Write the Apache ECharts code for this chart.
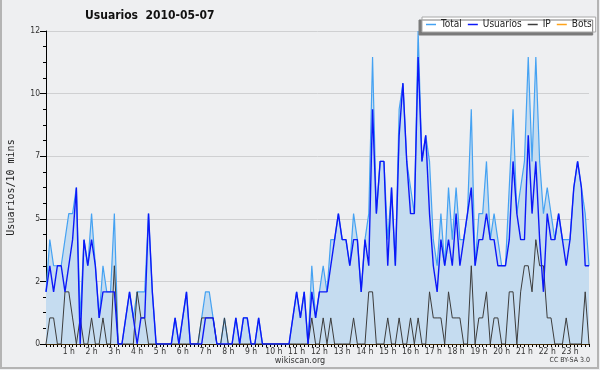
<!DOCTYPE html>
<html>
<head>
<meta charset="utf-8">
<script src="https://cdn.jsdelivr.net/npm/echarts@6/dist/echarts.min.js"></script>
<style>
html,body{margin:0;padding:0;background:#eeeff1;}
#c{width:600px;height:370px;}
</style>
</head>
<body>
<div id="c"></div>
<script>
const FONT = "'DejaVu Sans Condensed', 'DejaVu Sans', sans-serif";

const seriesNames = ['Total', 'Usuarios', 'IP', 'Bots'];
const hourLabels = ['1 h','2 h','3 h','4 h','5 h','6 h','7 h','8 h','9 h','10 h','11 h','12 h','13 h','14 h','15 h','16 h','17 h','18 h','19 h','20 h','21 h','22 h','23 h'];
const yTickLabels = ['0','2','5','7','10','12'];

const totalValues = [
  2,4,3,3,3,4,5,5,6,1, 4,3,5,3,1,3,2,2,5,0,
  0,1,2,1,2,2,2,5,2,0, 0,0,0,0,1,0,1,2,0,0,
  0,1,2,2,1,0,0,1,0,0, 1,0,1,1,0,0,1,0,0,0,
  0,0,0,0,0,1,2,1,2,0, 3,1,2,3,2,4,4,5,4,4,
  3,5,4,2,4,5,11,5,7,7, 4,6,3,9,10,7,6,5,12,7,
  8,7,4,3,5,3,6,4,6,4, 4,5,9,3,5,5,7,4,5,4,
  3,3,6,9,5,6,7,11,7,11, 7,5,6,5,4,5,4,4,4,6,
  7,6,5,3
];
const usuariosValues = [
  2,3,2,3,3,2,3,4,6,0, 4,3,4,3,1,2,2,2,2,0,
  0,1,2,1,0,1,1,5,2,0, 0,0,0,0,1,0,1,2,0,0,
  0,0,1,1,1,0,0,0,0,0, 1,0,1,1,0,0,1,0,0,0,
  0,0,0,0,0,1,2,1,2,0, 2,1,2,2,2,3,4,5,4,4,
  3,4,4,2,4,3,9,5,7,7, 3,6,3,8,10,7,5,5,11,7,
  8,5,3,2,4,3,4,3,5,3, 4,5,6,3,4,4,5,4,4,3,
  3,3,4,7,5,4,4,8,5,7, 4,2,5,4,4,5,4,3,4,6,
  7,6,3,3
];
const ipValues = [
  0,1,1,0,0,2,2,1,0,1, 0,0,1,0,0,1,0,0,3,0,
  0,0,0,0,2,1,1,0,0,0, 0,0,0,0,0,0,0,0,0,0,
  0,1,1,1,1,0,0,1,0,0, 0,0,0,0,0,0,0,0,0,0,
  0,0,0,0,0,0,0,0,0,0, 1,0,0,1,0,1,0,0,0,0,
  0,1,0,0,0,2,2,0,0,0, 1,0,0,1,0,0,1,0,1,0,
  0,2,1,1,1,0,2,1,1,1, 0,0,3,0,1,1,2,0,1,1,
  0,0,2,2,0,2,3,3,2,4, 3,3,1,1,0,0,0,1,0,0,
  0,0,2,0
];
const botsValues = [
  0,0,0,0,0,0,0,0,0,0, 0,0,0,0,0,0,0,0,0,0,
  0,0,0,0,0,0,0,0,0,0, 0,0,0,0,0,0,0,0,0,0,
  0,0,0,0,0,0,0,0,0,0, 0,0,0,0,0,0,0,0,0,0,
  0,0,0,0,0,0,0,0,0,0, 0,0,0,0,0,0,0,0,0,0,
  0,0,0,0,0,0,0,0,0,0, 0,0,0,0,0,0,0,0,0,0,
  0,0,0,0,0,0,0,0,0,0, 0,0,0,0,0,0,0,0,0,0,
  0,0,0,0,0,0,0,0,0,0, 0,0,0,0,0,0,0,0,0,0,
  0,0,0,0
];

// 10-minute time slots of the day (category labels)
const timeSlots = [];
for (let h = 0; h < 24; h++) {
  for (let m = 0; m < 60; m += 10) {
    timeSlots.push(String(h).padStart(2,'0') + ':' + String(m).padStart(2,'0'));
  }
}

const seriesColors = ['#45a2f2', '#0c18f8', '#3c3c3c', '#ffa31a'];

const chart = echarts.init(document.getElementById('c'), null, {renderer: 'canvas', width: 600, height: 370});
chart.setOption({
  animation: false,
  backgroundColor: '#eeeff1',
  title: {
    text: 'Usuarios  2010-05-07',
    left: 85, top: 10, padding: 0,
    textStyle: {fontFamily: FONT, fontSize: 12, fontWeight: 'bold', color: '#111'}
  },
  legend: {
    data: seriesNames.map(function (n) { return {name: n, icon: 'rect'}; }),
    left: 422, top: 17,
    padding: [2, 4, 2, 4],
    itemWidth: 10, itemHeight: 1.5, itemGap: 6,
    backgroundColor: '#ffffff',
    borderColor: '#a8a8a8', borderWidth: 1,
    shadowColor: '#7a7a7a', shadowBlur: 0, shadowOffsetX: -3, shadowOffsetY: 3,
    textStyle: {fontFamily: FONT, fontSize: 10, color: '#222', lineHeight: 11}
  },
  grid: {left: 46, right: 11, top: 31, bottom: 26, containLabel: false, outerBoundsMode: 'none'},
  xAxis: {
    type: 'category',
    data: timeSlots,
    boundaryGap: false,
    axisLine: {lineStyle: {color: '#000', width: 1}},
    axisTick: {show: true, interval: 0, length: 3, lineStyle: {color: '#000'}},
    axisLabel: {
      interval: function (i) { return i % 6 === 0 && i > 0; },
      formatter: function (v, i) { return hourLabels[i / 6 - 1] || ''; },
      fontFamily: FONT, fontSize: 8.5, color: '#333', margin: 3
    },
    splitLine: {show: false}
  },
  yAxis: {
    type: 'value',
    min: 0, max: 12, interval: 2.4,
    name: 'Usuarios/10 mins',
    nameLocation: 'middle', nameRotate: 90, nameGap: 30,
    nameTextStyle: {fontFamily: "'DejaVu Sans Mono', monospace", fontSize: 10, color: '#222'},
    axisLine: {show: true, lineStyle: {color: '#000', width: 1}},
    axisTick: {show: true, length: 6, lineStyle: {color: '#000'}},
    minorTick: {show: true, splitNumber: 4, length: 3, lineStyle: {color: '#000'}},
    axisLabel: {
      formatter: function (v) { return yTickLabels[Math.round(v / 2.4)]; },
      fontFamily: FONT, fontSize: 8.5, color: '#333', margin: 6
    },
    splitLine: {show: true, lineStyle: {color: '#cfd0d2', width: 1}}
  },
  series: [
    {name: 'Total', type: 'line', data: totalValues, symbol: 'none', color: seriesColors[0],
     lineStyle: {width: 1.2, color: seriesColors[0]}, areaStyle: {color: '#c5dcf0', opacity: 1}, z: 2},
    {name: 'Usuarios', type: 'line', data: usuariosValues, symbol: 'none', color: seriesColors[1],
     lineStyle: {width: 1.4, color: seriesColors[1]}, z: 4},
    {name: 'IP', type: 'line', data: ipValues, symbol: 'none', color: seriesColors[2],
     lineStyle: {width: 1, color: seriesColors[2]}, z: 3},
    {name: 'Bots', type: 'line', data: botsValues, symbol: 'none', color: seriesColors[3],
     lineStyle: {width: 1, color: seriesColors[3]}, z: 1}
  ],
  graphic: [
    {type: 'polyline', shape: {points: [[1,0],[1,368],[598,368],[598,0]]},
     style: {stroke: '#b4b4b4', lineWidth: 2, fill: null}, silent: true},
    {type: 'text', left: 'center', top: 356,
     style: {text: 'wikiscan.org', font: "9px " + FONT, fill: '#333'}},
    {type: 'text', right: 10, top: 357,
     style: {text: 'CC BY-SA 3.0', font: "7px " + FONT, fill: '#333'}}
  ]
});
</script>
</body>
</html>
